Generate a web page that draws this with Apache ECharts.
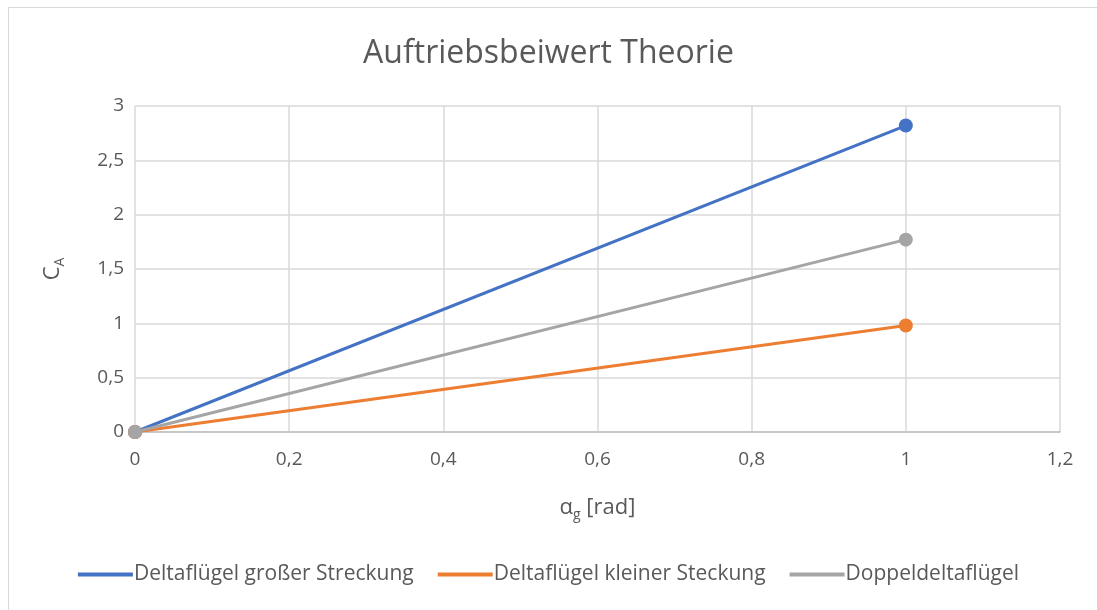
<!DOCTYPE html>
<html>
<head>
<meta charset="utf-8">
<script src="https://cdn.jsdelivr.net/npm/echarts@6/dist/echarts.min.js"></script>
<style>
  html, body { margin: 0; padding: 0; background: #fff; overflow: hidden; }
  #frame { position: absolute; left: 8px; top: 7px; width: 1100px; height: 620px; border: 1px solid #d9d9d9; box-sizing: border-box; }
  #chart { position: absolute; left: 0; top: 0; width: 1097px; height: 610px; }
</style>
</head>
<body>
<div id="frame"></div>
<div id="chart"></div>
<script>
// Angle of attack [rad]
const alpha = [0, 1];
// Lift coefficient per wing type
const seriesNames = ['Deltaflügel großer Streckung', 'Deltaflügel kleiner Steckung', 'Doppeldeltaflügel'];
const caGross = [0, 2.82];
const caKlein = [0, 0.98];
const caDoppel = [0, 1.77];
const colors = ['#4472c4', '#ed7d31', '#a5a5a5'];

const FONT = '"Open Sans", Lato, sans-serif';
const TXT = '#595959';
const comma = v => String(v).replace('.', ',');

const chart = echarts.init(document.getElementById('chart'), null, { renderer: 'canvas' });

function mkSeries(name, values, color) {
  return {
    name: name,
    type: 'line',
    data: alpha.map((a, i) => [a, values[i]]),
    symbol: 'circle',
    symbolSize: 14,
    lineStyle: { color: color, width: 3 },
    itemStyle: { color: color },
    emphasis: { disabled: true },
    animation: false
  };
}

chart.setOption({
  backgroundColor: 'transparent',
  textStyle: { fontFamily: FONT },
  title: {
    text: 'Auftriebsbeiwert Theorie',
    left: 'center',
    top: 33,
    textStyle: { fontFamily: FONT, fontSize: 32, fontWeight: 'normal', color: TXT }
  },
  legend: {
    bottom: 20,
    left: 'center',
    itemWidth: 55,
    itemHeight: 4,
    itemGap: 24,
    icon: 'rect',
    textStyle: { fontFamily: FONT, fontSize: 21, color: TXT, padding: [0, 0, 0, -4] },
    data: seriesNames
  },
  grid: { left: 135, right: 37, top: 106, bottom: 178, containLabel: false },
  xAxis: {
    type: 'value',
    min: 0, max: 1.2, interval: 0.2,
    name: '{a|α}{s|g}{a| [rad]}',
    nameLocation: 'middle',
    nameGap: 62,
    nameTextStyle: {
      rich: {
        a: { fontFamily: FONT, fontSize: 22, color: TXT },
        s: { fontFamily: FONT, fontSize: 14, color: TXT, padding: [14, 0, 0, 0] }
      }
    },
    axisLine: { show: true, lineStyle: { color: '#bfbfbf', width: 1.5 } },
    axisTick: { show: false },
    splitLine: { show: true, lineStyle: { color: '#d9d9d9', width: 1.5 } },
    axisLabel: { fontFamily: FONT, fontSize: 19, color: TXT, margin: 18, formatter: v => comma(Math.round(v * 10) / 10) }
  },
  yAxis: {
    type: 'value',
    min: 0, max: 3, interval: 0.5,
    name: '{a|C}{s|A}',
    nameLocation: 'middle',
    nameRotate: 90,
    nameGap: 68,
    nameTextStyle: {
      rich: {
        a: { fontFamily: FONT, fontSize: 22, color: TXT },
        s: { fontFamily: FONT, fontSize: 14, color: TXT, padding: [14, 0, 0, 0] }
      }
    },
    axisLine: { show: false },
    axisTick: { show: false },
    splitLine: { show: true, lineStyle: { color: '#d9d9d9', width: 1.5 } },
    axisLabel: { fontFamily: FONT, fontSize: 19, color: TXT, margin: 11, formatter: v => comma(v) }
  },
  series: [
    mkSeries(seriesNames[0], caGross, colors[0]),
    mkSeries(seriesNames[1], caKlein, colors[1]),
    mkSeries(seriesNames[2], caDoppel, colors[2])
  ]
});
</script>
</body>
</html>
